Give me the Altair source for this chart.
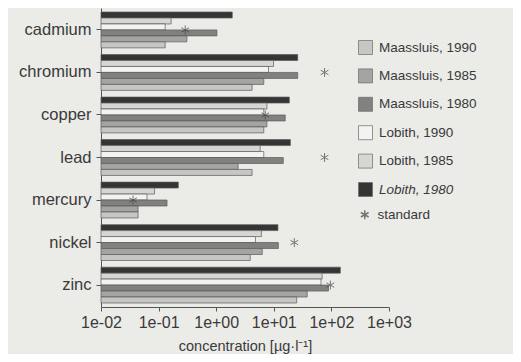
import altair as alt
import pandas as pd

metals = ["cadmium", "chromium", "copper", "lead", "mercury", "nickel", "zinc"]
lobith_1980 = [1.9, 26, 18.6, 19.4, 0.22, 11.8, 143]
lobith_1985 = [0.165, 9.9, 7.6, 5.8, 0.085, 6.1, 69]
lobith_1990 = [0.13, 8.1, 6.7, 6.7, 0.063, 4.8, 66]
maassluis_1980 = [1.03, 26, 15.8, 14.6, 0.14, 12.0, 89]
maassluis_1985 = [0.31, 6.7, 7.6, 2.4, 0.044, 6.3, 38]
maassluis_1990 = [0.13, 4.2, 6.7, 4.2, 0.044, 3.9, 25]
standard = [0.29, 76, 7.1, 76, 0.036, 22.7, 96]

series_names = ["Lobith, 1980", "Lobith, 1985", "Lobith, 1990",
                "Maassluis, 1980", "Maassluis, 1985", "Maassluis, 1990"]
series_values = [lobith_1980, lobith_1985, lobith_1990,
                 maassluis_1980, maassluis_1985, maassluis_1990]
legend_order = ["Maassluis, 1990", "Maassluis, 1985", "Maassluis, 1980",
                "Lobith, 1990", "Lobith, 1985", "Lobith, 1980"]
legend_colors = ["#c6c6c4", "#a4a4a2", "#80827f", "#f3f3f1", "#d6d6d4", "#353535"]
x_ticks = [0.01, 0.1, 1, 10, 100, 1000]

rows = []
for name, vals in zip(series_names, series_values):
    for m, v in zip(metals, vals):
        rows.append({"metal": m, "series": name, "value": v})
bars_df = pd.DataFrame(rows)
std_df = pd.DataFrame({"metal": metals, "value": standard, "label": ["standard"] * len(metals)})

FONT = "Liberation Sans"
TXT = "#3a3a3a"

xscale = alt.Scale(type="log", domain=[0.01, 1000], nice=False)
yscale = alt.Scale(domain=metals, paddingInner=0.157, paddingOuter=0.094)

x_axis = alt.Axis(
    values=x_ticks,
    labelExpr="datum.value < 1 ? '1e-0' + round(-log(datum.value)/LN10) : '1e+0' + round(log(datum.value)/LN10)",
    title="concentration [µg·l⁻¹]",
    grid=False, labelFontSize=16, titleFontSize=14.5, titleFontWeight="normal",
    labelPadding=3, tickSize=4, titlePadding=9, labelFlush=False,
)

bars = alt.Chart(bars_df).mark_bar(stroke="#5a5a5a", strokeWidth=0.7).encode(
    x=alt.X("value:Q", scale=xscale, axis=x_axis),
    x2=alt.datum(0.01),
    y=alt.Y("metal:N", scale=yscale, sort=metals,
            axis=alt.Axis(title=None, labelFontSize=16.5, tickSize=5, labelPadding=5)),
    yOffset=alt.YOffset("series:N", sort=series_names,
                        scale=alt.Scale(domain=series_names, paddingInner=0, paddingOuter=0)),
    color=alt.Color("series:N",
                    scale=alt.Scale(domain=legend_order, range=legend_colors),
                    legend=alt.Legend(
                        title=None, orient="none", legendX=257, legendY=32,
                        symbolType="square", symbolSize=196,
                        symbolStrokeColor="#6a6a6a", symbolStrokeWidth=0.7,
                        labelFontSize=13.5, rowPadding=11.4, labelOffset=6, labelLimit=300,
                        labelFontStyle={"expr": "datum.label == 'Lobith, 1980' ? 'italic' : 'normal'"},
                    )),
)

star_path = "M0,-1L0,1M-0.866,-0.5L0.866,0.5M-0.866,0.5L0.866,-0.5"
stars = alt.Chart(std_df).mark_point(filled=False, color="#444444", strokeWidth=1, size=80).encode(
    x=alt.X("value:Q", scale=xscale),
    y=alt.Y("metal:N", scale=yscale, sort=metals),
    shape=alt.Shape("label:N", scale=alt.Scale(domain=["standard"], range=[star_path]),
                    legend=alt.Legend(title=None, orient="none", legendX=257, legendY=200,
                                      symbolSize=80, labelFontSize=13.5, labelOffset=6,
                                      symbolStrokeColor="#444444")),
)

chart = alt.layer(bars, stars).resolve_legend(shape="independent", color="independent").properties(
    width=288, height=299,
    background="#ebebe8",
    autosize=alt.AutoSizeParams(type="none"),
    padding={"left": 93, "top": 0, "right": 124, "bottom": 47},
).configure(font=FONT).configure_axis(
    labelColor=TXT, titleColor=TXT, domainColor="#555555", tickColor="#555555", labelFont=FONT, titleFont=FONT,
).configure_legend(labelColor=TXT, labelFont=FONT, labelFontSize=13.5).configure_view(stroke=None)

chart.save("out.html", embed_options={"renderer": "svg", "actions": False})
